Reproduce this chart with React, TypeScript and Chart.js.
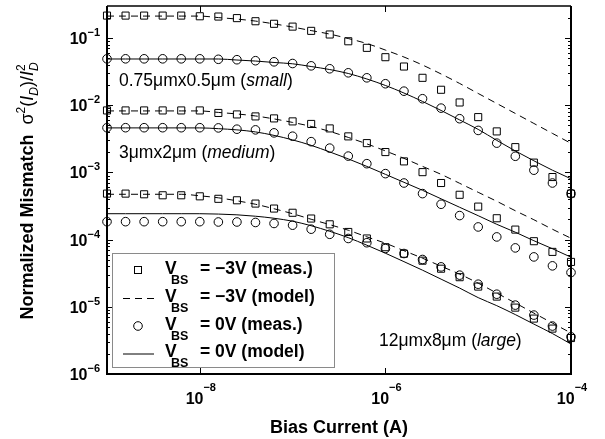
import React, { useEffect, useRef } from "react";
import { Chart, registerables } from "chart.js";

Chart.register(...registerables);

// Bias current (A), 5 points per decade
const biasCurrent = [
  1e-9, 1.585e-9, 2.512e-9, 3.981e-9, 6.31e-9,
  1e-8, 1.585e-8, 2.512e-8, 3.981e-8, 6.31e-8,
  1e-7, 1.585e-7, 2.512e-7, 3.981e-7, 6.31e-7,
  1e-6, 1.585e-6, 2.512e-6, 3.981e-6, 6.31e-6,
  1e-5, 1.585e-5, 2.512e-5, 3.981e-5, 6.31e-5,
  1e-4,
];

// small device 0.75um x 0.5um
const smallMeasNeg3 = [
  0.216, 0.216, 0.216, 0.216, 0.216, 0.211, 0.209, 0.198, 0.178, 0.163,
  0.148, 0.128, 0.113, 0.0896, 0.0715, 0.0519, 0.0377, 0.0256, 0.017, 0.011,
  0.00666, 0.00408, 0.00238, 0.0014, 0.000854, 0.000484,
];
const smallModelNeg3 = [
  0.2123, 0.2123, 0.2123, 0.2123, 0.2123, 0.2123, 0.2017, 0.1916, 0.1789, 0.1626,
  0.1457, 0.1292, 0.1146, 0.0983, 0.0829, 0.0663, 0.0522, 0.0397, 0.0292, 0.0211,
  0.01497, 0.01063, 0.00755, 0.00536, 0.00381, 0.00271,
];
const smallMeas0 = [
  0.0491, 0.0491, 0.0491, 0.0491, 0.0491, 0.0491, 0.0483, 0.0476, 0.046, 0.0443,
  0.0418, 0.0386, 0.0349, 0.0304, 0.0256, 0.0209, 0.0162, 0.0125, 0.00906, 0.0063,
  0.00422, 0.00273, 0.00174, 0.00108, 0.000696, 0.000484,
];
const smallModel0 = [
  0.0488, 0.0488, 0.0488, 0.0488, 0.0488, 0.0488, 0.0488, 0.0471, 0.0455, 0.0433,
  0.0414, 0.0377, 0.034, 0.0297, 0.0246, 0.0197, 0.0152, 0.0114, 0.00837, 0.00605,
  0.00437, 0.003, 0.00209, 0.00149, 0.00108, 0.000803,
];

// medium device 3um x 2um
const mediumMeasNeg3 = [
  0.00837, 0.00837, 0.00837, 0.00837, 0.00837, 0.00837, 0.00768, 0.0073, 0.00682, 0.00637,
  0.00575, 0.00527, 0.00452, 0.00344, 0.00273, 0.00201, 0.00146, 0.00101, 0.000696, 0.000465,
  0.00031, 0.000208, 0.000141, 0.0000947, 0.0000657, 0.0000466,
];
const mediumModelNeg3 = [
  0.00823, 0.00823, 0.00823, 0.00823, 0.00823, 0.00823, 0.00782, 0.00742, 0.00693, 0.00626,
  0.00555, 0.00484, 0.00408, 0.00332, 0.00266, 0.00209, 0.00162, 0.00123, 0.000937, 0.000689,
  0.000506, 0.000372, 0.000269, 0.0001975, 0.0001427, 0.0001049,
];
const mediumMeas0 = [
  0.00463, 0.00463, 0.00463, 0.00463, 0.00463, 0.00463, 0.0046, 0.0044, 0.0043, 0.00388,
  0.00346, 0.00287, 0.0023, 0.00175, 0.00135, 0.00096, 0.000696, 0.000484, 0.000336, 0.000228,
  0.0001544, 0.0001097, 0.0000753, 0.0000553, 0.0000407, 0.0000324,
];
const mediumModel0 = [
  0.0046, 0.0046, 0.0046, 0.0046, 0.0046, 0.0046, 0.00448, 0.0043, 0.00401, 0.00356,
  0.00305, 0.00253, 0.00202, 0.00159, 0.00123, 0.000937, 0.000713, 0.000542, 0.000405, 0.000303,
  0.000227, 0.000169, 0.000129, 0.0000963, 0.0000732, 0.0000548,
];

// large device 12um x 8um
const largeMeasNeg3 = [
  0.000484, 0.000484, 0.000473, 0.000457, 0.000457, 0.000441, 0.000405, 0.000385, 0.000344, 0.00029,
  0.000251, 0.000206, 0.000169, 0.00013, 0.000104, 0.0000771, 0.0000617, 0.0000486, 0.0000369, 0.0000276,
  0.00002, 0.0000142, 0.00000973, 0.00000668, 0.00000474, 0.00000343,
];
const largeModelNeg3 = [
  0.000473, 0.000473, 0.000473, 0.000473, 0.000473, 0.000449, 0.000419, 0.000378, 0.000336, 0.000288,
  0.000243, 0.000201, 0.000167, 0.000138, 0.00011, 0.0000884, 0.0000684, 0.0000529, 0.0000402, 0.0000306,
  0.0000225, 0.000016, 0.0000114, 0.00000806, 0.00000573, 0.00000407,
];
const largeMeas0 = [
  0.000185, 0.000185, 0.000185, 0.000185, 0.000185, 0.000185, 0.000183, 0.000183, 0.00018, 0.000174,
  0.000164, 0.000143, 0.00012, 0.000104, 0.0000899, 0.0000738, 0.0000621, 0.0000506, 0.0000393, 0.0000296,
  0.0000217, 0.0000154, 0.0000106, 0.00000753, 0.00000517, 0.00000358,
];
const largeModel0 = [
  0.000243, 0.000243, 0.000243, 0.000243, 0.000243, 0.000243, 0.00024, 0.000234, 0.000223, 0.000208,
  0.000188, 0.000161, 0.000133, 0.000107, 0.0000826, 0.0000628, 0.000047, 0.0000351, 0.0000258, 0.000019,
  0.0000137, 0.0000104, 0.00000766, 0.00000553, 0.000004, 0.00000279,
];

// axes
const xMin = 1e-9;
const xMax = 1e-4;
const yMin = 1e-6;
const yMax = 0.3;
const xTickValues = [1e-8, 1e-6, 1e-4];
const xTickExponents = ["\u22128", "\u22126", "\u22124"];
const yTickValues = [1e-6, 1e-5, 1e-4, 1e-3, 1e-2, 1e-1];
const yTickExponents = ["\u22126", "\u22125", "\u22124", "\u22123", "\u22122", "\u22121"];
const yMinorMultipliers = [2, 3, 4, 5, 6, 7, 8, 9];

const legendLabels = ["\u22123V (meas.)", "\u22123V (model)", "0V (meas.)", "0V (model)"];
const sizeLabels = [
  { dims: "0.75\u03bcmx0.5\u03bcm", name: "small" },
  { dims: "3\u03bcmx2\u03bcm", name: "medium" },
  { dims: "12\u03bcmx8\u03bcm", name: "large" },
];

const FONT = "'Liberation Sans', Arial, Helvetica, sans-serif";

type Seg = { t: string; font: string; dy?: number; noAdvance?: boolean };

function segWidth(ctx: CanvasRenderingContext2D, segs: Seg[]) {
  let w = 0;
  for (const s of segs) {
    ctx.font = s.font;
    if (!s.noAdvance) w += ctx.measureText(s.t).width;
  }
  return w;
}

function drawSegs(ctx: CanvasRenderingContext2D, segs: Seg[], x: number, y: number) {
  let cx = x;
  for (const s of segs) {
    ctx.font = s.font;
    ctx.fillText(s.t, cx, y + (s.dy || 0));
    if (!s.noAdvance) cx += ctx.measureText(s.t).width;
  }
}

const decorPlugin = {
  id: "decor",
  afterDraw(chart: any) {
    const ctx: CanvasRenderingContext2D = chart.ctx;
    const { left, right, top, bottom } = chart.chartArea;
    const xs = chart.scales.x;
    const ys = chart.scales.y;
    ctx.save();
    ctx.fillStyle = "#000";
    ctx.strokeStyle = "#000";
    ctx.textBaseline = "alphabetic";
    ctx.textAlign = "left";

    // frame
    ctx.lineWidth = 2;
    ctx.beginPath();
    ctx.moveTo(left, top);
    ctx.lineTo(left, bottom);
    ctx.lineTo(right, bottom);
    ctx.lineTo(right, top);
    ctx.stroke();
    ctx.lineWidth = 1.5;
    ctx.beginPath();
    ctx.moveTo(left, top);
    ctx.lineTo(right, top);
    ctx.stroke();

    // y ticks
    ctx.lineWidth = 1;
    ctx.beginPath();
    for (const v of yTickValues) {
      const py = Math.round(ys.getPixelForValue(v)) + 0.5;
      ctx.moveTo(left, py);
      ctx.lineTo(left + 6, py);
      ctx.moveTo(right, py);
      ctx.lineTo(right - 6, py);
      for (const m of yMinorMultipliers) {
        const mv = v * m;
        if (mv > yMax) continue;
        const my = Math.round(ys.getPixelForValue(mv)) + 0.5;
        ctx.moveTo(left, my);
        ctx.lineTo(left + 3, my);
        ctx.moveTo(right, my);
        ctx.lineTo(right - 3, my);
      }
    }
    for (const v of xTickValues) {
      const px = Math.round(xs.getPixelForValue(v)) + 0.5;
      ctx.moveTo(px, bottom);
      ctx.lineTo(px, bottom - 6);
      ctx.moveTo(px, top);
      ctx.lineTo(px, top + 6);
    }
    ctx.stroke();

    // y tick labels
    const baseFont = `bold 16px ${FONT}`;
    const supFont = `bold 11px ${FONT}`;
    yTickValues.forEach((v, i) => {
      const py = ys.getPixelForValue(v);
      const segs: Seg[] = [
        { t: "10", font: baseFont },
        { t: yTickExponents[i], font: supFont, dy: -8 },
      ];
      const w = segWidth(ctx, segs);
      drawSegs(ctx, segs, left - 7 - w, py + 6);
    });
    // x tick labels
    xTickValues.forEach((v, i) => {
      const px = xs.getPixelForValue(v);
      const segs: Seg[] = [
        { t: "10", font: baseFont },
        { t: xTickExponents[i], font: supFont, dy: -13 },
      ];
      const w = segWidth(ctx, segs);
      drawSegs(ctx, segs, px - w / 2 + 1, bottom + 30);
    });

    // x title
    ctx.font = `bold 18px ${FONT}`;
    ctx.textAlign = "center";
    ctx.fillText("Bias Current (A)", (left + right) / 2, 433);
    ctx.textAlign = "left";

    // y title (rotated)
    const yt: Seg[] = [
      { t: "Normalized Mismatch  ", font: `bold 18px ${FONT}` },
      { t: "\u03c3", font: `18px ${FONT}` },
      { t: "2", font: `12px ${FONT}`, dy: -8 },
      { t: "(", font: `18px ${FONT}` },
      { t: "I", font: `italic 18px ${FONT}` },
      { t: "D", font: `italic 12px ${FONT}`, dy: 5 },
      { t: ")/", font: `18px ${FONT}` },
      { t: "I", font: `italic 18px ${FONT}` },
      { t: "2", font: `12px ${FONT}`, dy: -8, noAdvance: true },
      { t: "D", font: `italic 12px ${FONT}`, dy: 5 },
    ];
    ctx.save();
    ctx.translate(33, (top + bottom) / 2 + 1);
    ctx.rotate(-Math.PI / 2);
    const ytw = segWidth(ctx, yt);
    drawSegs(ctx, yt, -ytw / 2, 0);
    ctx.restore();

    // size annotations
    const annPos = [
      { x: 119, y: 86 },
      { x: 119, y: 158 },
      { x: 379, y: 346 },
    ];
    sizeLabels.forEach((s, i) => {
      const segs: Seg[] = [
        { t: s.dims + " (", font: `17.5px ${FONT}` },
        { t: s.name, font: `italic 17.5px ${FONT}` },
        { t: ")", font: `17.5px ${FONT}` },
      ];
      drawSegs(ctx, segs, annPos[i].x, annPos[i].y);
    });

    // legend
    const lx = 112.5, ly = 253.5, lw = 222, lh = 114;
    ctx.fillStyle = "#fff";
    ctx.fillRect(lx, ly, lw, lh);
    ctx.strokeStyle = "#8a8a8a";
    ctx.lineWidth = 1;
    ctx.strokeRect(lx, ly, lw, lh);
    ctx.fillStyle = "#000";
    ctx.strokeStyle = "#000";
    const rowC = [270, 298, 326, 353.5];
    rowC.forEach((c, i) => {
      ctx.save();
      ctx.lineWidth = 1;
      if (i === 0) {
        ctx.strokeRect(134.5, c - 3.5, 7, 7);
      } else if (i === 2) {
        ctx.beginPath();
        ctx.arc(138, c, 4.3, 0, Math.PI * 2);
        ctx.stroke();
      } else {
        if (i === 1) ctx.setLineDash([7, 5]);
        ctx.beginPath();
        ctx.moveTo(123, c + 0.5);
        ctx.lineTo(154, c + 0.5);
        ctx.stroke();
      }
      ctx.restore();
      const base = c + 3.5;
      ctx.font = `bold 17.5px ${FONT}`;
      ctx.fillText("V", 165, base);
      ctx.font = `bold 12.5px ${FONT}`;
      ctx.fillText("BS", 171, base + 10);
      ctx.font = `bold 17.5px ${FONT}`;
      ctx.fillText("= " + legendLabels[i], 200, base);
    });

    ctx.restore();
  },
};

function lineDs(values: number[], dashed: boolean) {
  return {
    data: biasCurrent.map((x, i) => ({ x, y: values[i] })),
    showLine: true,
    borderColor: "#000",
    borderWidth: 1,
    borderDash: dashed ? [7, 5] : [],
    pointRadius: 0,
    fill: false,
    cubicInterpolationMode: "monotone" as const,
    clip: false,
  };
}

function markDs(values: number[], square: boolean) {
  return {
    data: biasCurrent.map((x, i) => ({ x, y: values[i] })),
    showLine: false,
    borderColor: "#000",
    backgroundColor: "rgba(0,0,0,0)",
    pointStyle: square ? "rect" : "circle",
    pointRadius: square ? 5 : 4.3,
    pointBorderWidth: 1,
    clip: false,
  };
}

export default function App() {
  const ref = useRef<HTMLCanvasElement | null>(null);
  useEffect(() => {
    if (!ref.current) return;
    const chart = new Chart(ref.current, {
      type: "scatter",
      data: {
        datasets: [
          lineDs(smallModelNeg3, true),
          lineDs(smallModel0, false),
          lineDs(mediumModelNeg3, true),
          lineDs(mediumModel0, false),
          lineDs(largeModelNeg3, true),
          lineDs(largeModel0, false),
          markDs(smallMeasNeg3, true),
          markDs(smallMeas0, false),
          markDs(mediumMeasNeg3, true),
          markDs(mediumMeas0, false),
          markDs(largeMeasNeg3, true),
          markDs(largeMeas0, false),
        ] as any,
      },
      options: {
        animation: false,
        responsive: false,
        devicePixelRatio: 1,
        layout: { padding: { left: 107, top: 5, right: 34, bottom: 65 } },
        scales: {
          x: { type: "logarithmic", min: xMin, max: xMax, display: false },
          y: { type: "logarithmic", min: yMin, max: yMax, display: false },
        },
        plugins: {
          legend: { display: false },
          tooltip: { enabled: false },
        },
        events: [],
      },
      plugins: [decorPlugin],
    });
    return () => chart.destroy();
  }, []);
  return (
    <div style={{ position: "absolute", left: 0, top: 0, width: 605, height: 439, background: "#fff" }}>
      <canvas ref={ref} width={605} height={439} style={{ display: "block" }} />
    </div>
  );
}
